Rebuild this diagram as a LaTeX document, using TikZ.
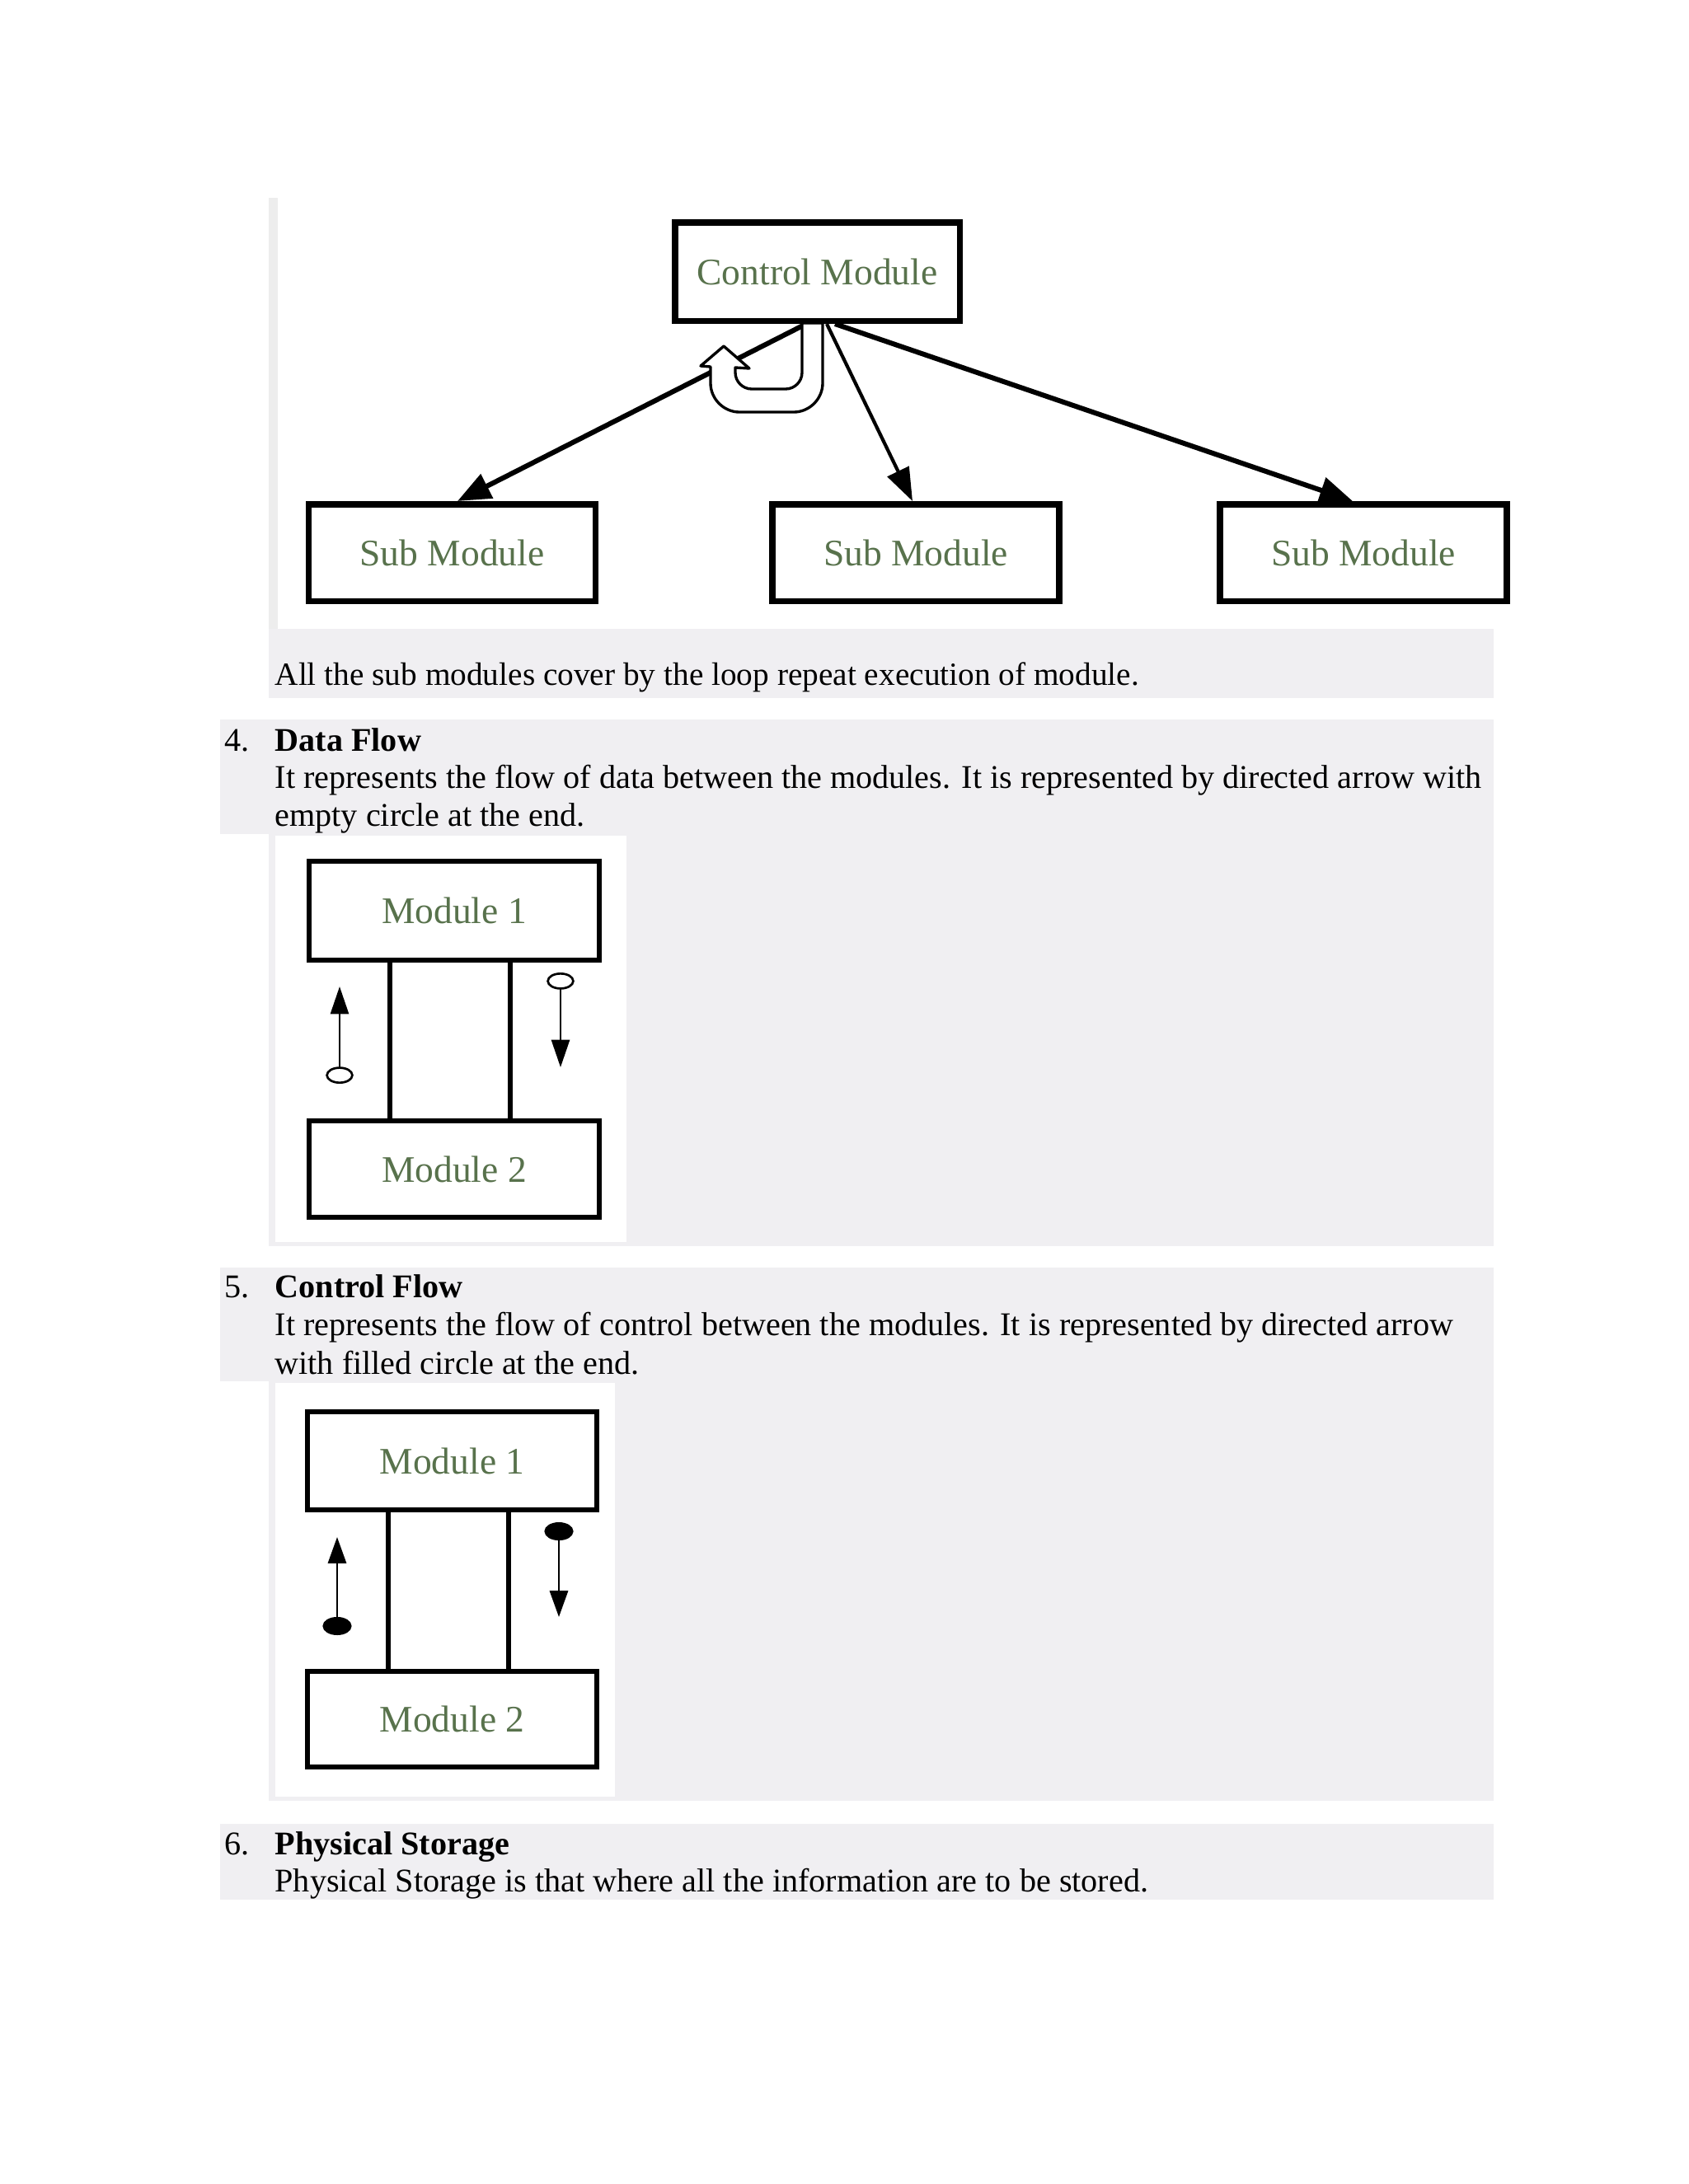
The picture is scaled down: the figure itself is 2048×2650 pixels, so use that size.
\documentclass[tikz,border=0pt]{standalone}
\usepackage{fontspec}
\setmainfont{Liberation Serif}
\usetikzlibrary{arrows.meta}
\definecolor{band}{RGB}{240,239,242}
\definecolor{strip}{RGB}{237,237,237}
\definecolor{boxtext}{RGB}{88,114,76}
\newcommand{\pxu}{0.29883bp}
\begin{document}
\begin{tikzpicture}[x=0.29883bp, y=-0.29883bp,
  body/.style={anchor=base west, inner sep=0pt, font=\fontsize{12bp}{14bp}\selectfont},
  headtext/.style={anchor=base west, inner sep=0pt, font=\fontsize{12bp}{14bp}\selectfont\bfseries},
  bigbox/.style={draw, line width=2.24bp, fill=white, inner sep=0pt, text=boxtext, font=\fontsize{13.6bp}{15bp}\selectfont},
  modbox/.style={draw, line width=1.8bp, fill=white, inner sep=0pt, text=boxtext, font=\fontsize{13.6bp}{15bp}\selectfont},
  bigarrow/.style={line width=1.8bp, -{Triangle[length=12bp,width=9.5bp]}},
  midarrow/.style={line width=1.25bp, -{Triangle[length=12bp,width=8.5bp]}},
  link/.style={line width=1.65bp},
  dataflow/.style={line width=0.8bp, {Ellipse[open,length=6.2bp,width=10bp]}-{Triangle[length=10bp,width=6.6bp]}},
  ctrlflow/.style={line width=0.8bp, {Ellipse[length=6.6bp,width=10.5bp]}-{Triangle[length=9.5bp,width=6.6bp]}},
  uarrow/.style={draw=black, fill=white, line width=1bp, line join=round}
]
\fill[white] (0,0) rectangle (2048,2650);
\useasboundingbox (0,0) rectangle (2048,2650);

% backgrounds
\fill[strip] (326,240) rectangle (337,763);
\fill[band] (326,763) rectangle (1812,847);
\fill[band] (267,873) rectangle (1812,1012);
\fill[band] (326,1012) rectangle (1812,1512);
\fill[white] (334,1014) rectangle (760,1507);
\fill[band] (267,1538) rectangle (1812,1676);
\fill[band] (326,1676) rectangle (1812,2185);
\fill[white] (334,1678) rectangle (746,2180);
\fill[band] (267,2213) rectangle (1812,2305);

% ---- top diagram
\node[bigbox, minimum width=345.5*\pxu, minimum height=119.5*\pxu] (ctrl) at (991.5,329.5) {Control Module};
\node[bigbox, minimum width=348*\pxu, minimum height=117.5*\pxu] (sub1) at (548.5,670.5) {Sub Module};
\node[bigbox, minimum width=348*\pxu, minimum height=117.5*\pxu] (sub2) at (1111,670.5) {Sub Module};
\node[bigbox, minimum width=348*\pxu, minimum height=117.5*\pxu] (sub3) at (1654,670.5) {Sub Module};
\coordinate (c1) at (978,0);
\coordinate (c2) at (1003,0);
\coordinate (c3) at (1013,0);
\coordinate (e1) at (555,0);
\coordinate (e2) at (1107,0);
\coordinate (e3) at (1641,0);
\draw[bigarrow] (ctrl.south -| c1) -- (sub1.north -| e1);
\draw[midarrow] (ctrl.south -| c2) -- (sub2.north -| e2);
\draw[bigarrow] (ctrl.south -| c3) -- (sub3.north -| e3);
% loop (U-turn) arrow
\draw[uarrow] (973,392) -- (973,452) .. controls (973,463) and (964,472) .. (953,472)
  -- (912,472) .. controls (901,472) and (892,463) .. (892,452) -- (892,446)
  -- (909,447) -- (878,420) -- (850,444) -- (862,445) -- (862,465)
  .. controls (862,484) and (878,500) .. (897,500) -- (963,500)
  .. controls (982,500) and (998,484) .. (998,465) -- (998,392) -- cycle;

\node[body, font=\fontsize{11.75bp}{14bp}\selectfont] (t1) at (333,831) {All the sub modules cover by the loop repeat execution of module.};

% ---- Data Flow
\node[body] (n4) at (272,911) {4.};
\node[headtext] (h4) at (333,911) {Data Flow};
\node[body] (t4a) at (333,956) {It represents the flow of data between the modules. It is represented by directed arrow with};
\node[body] (t4b) at (333,1002) {empty circle at the end.};

\node[modbox, minimum width=352*\pxu, minimum height=120*\pxu] (d1) at (551,1105) {Module 1};
\node[modbox, minimum width=352*\pxu, minimum height=117*\pxu] (d2) at (551,1418.5) {Module 2};
\coordinate (dl) at (473,0);
\coordinate (dr) at (619,0);
\draw[link] (d1.south -| dl) -- (d2.north -| dl);
\draw[link] (d1.south -| dr) -- (d2.north -| dr);
\coordinate (da1) at (412,1315);
\coordinate (db1) at (412,1197);
\coordinate (da2) at (680,1180);
\coordinate (db2) at (680,1295);
\draw[dataflow] (da1) -- (db1);
\draw[dataflow] (da2) -- (db2);

% ---- Control Flow
\node[body] (n5) at (272,1574) {5.};
\node[headtext] (h5) at (333,1574) {Control Flow};
\node[body] (t5a) at (333,1620) {It represents the flow of control between the modules. It is represented by directed arrow};
\node[body] (t5b) at (333,1667) {with filled circle at the end.};

\node[modbox, minimum width=351*\pxu, minimum height=119*\pxu] (k1) at (548.5,1772.5) {Module 1};
\node[modbox, minimum width=351*\pxu, minimum height=116*\pxu] (k2) at (548.5,2086) {Module 2};
\coordinate (kl) at (471,0);
\coordinate (kr) at (617,0);
\draw[link] (k1.south -| kl) -- (k2.north -| kl);
\draw[link] (k1.south -| kr) -- (k2.north -| kr);
\coordinate (ka1) at (409,1984);
\coordinate (kb1) at (409,1865);
\coordinate (ka2) at (678,1847);
\coordinate (kb2) at (678,1962);
\draw[ctrlflow] (ka1) -- (kb1);
\draw[ctrlflow] (ka2) -- (kb2);

% ---- Physical Storage
\node[body] (n6) at (272,2250) {6.};
\node[headtext] (h6) at (333,2250) {Physical Storage};
\node[body] (t6) at (333,2295) {Physical Storage is that where all the information are to be stored.};
\end{tikzpicture}
\end{document}
